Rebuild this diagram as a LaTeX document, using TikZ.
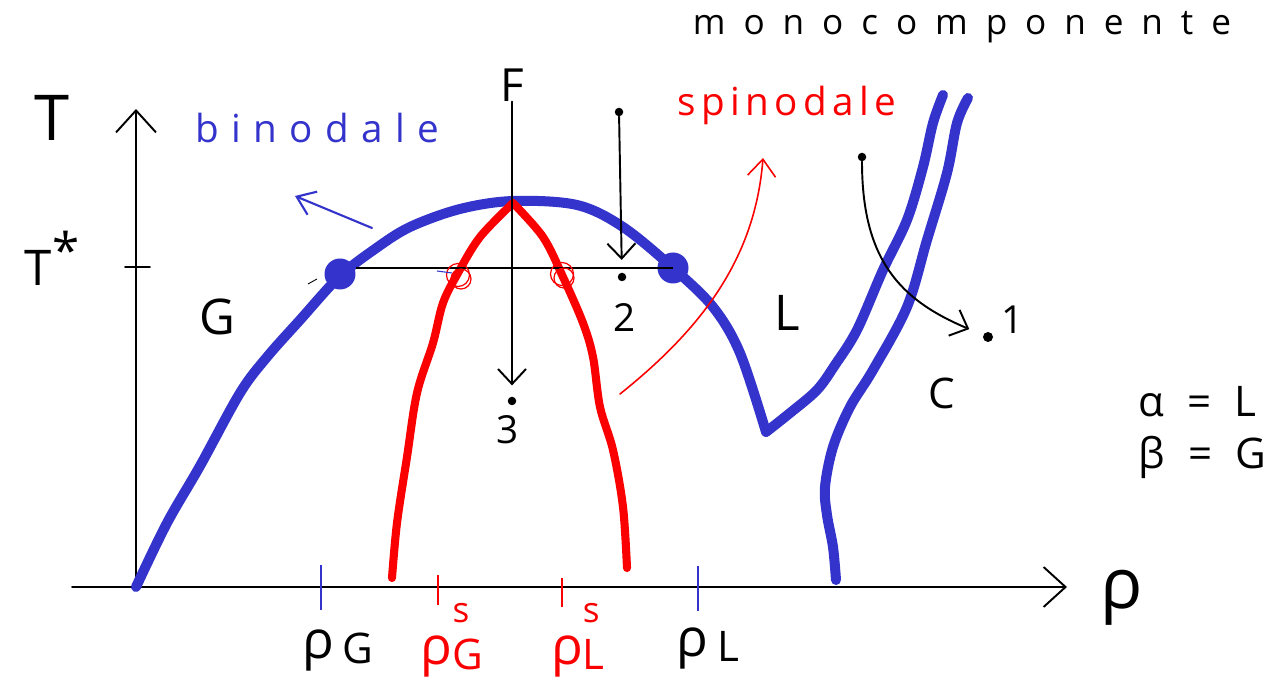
\documentclass[tikz,border=0pt]{standalone}
\usepackage{fontspec}
\setmainfont{Open Sans}
\usepackage{tikz}
\usetikzlibrary{arrows.meta,calc}

\definecolor{inkblue}{RGB}{52,52,204}
\definecolor{inkred}{RGB}{250,0,0}

\begin{document}
\begin{tikzpicture}[
    x=0.02cm, y=-0.02cm,
    axis/.style={line width=1.1pt, black, line cap=round},
    axarrow/.style={axis, -{Straight Barb[length=4.4mm, width=8mm, line width=1.1pt]}},
    ptarrow/.style={axis, -{Straight Barb[length=3mm, width=5.6mm, line width=1.1pt]}},
    binodal/.style={inkblue, line width=5.7pt, line cap=round, line join=round},
    spinodal/.style={inkred, line width=4.6pt, line cap=round, line join=round},
    dot/.style={circle, fill=black, inner sep=0pt, minimum size=0.17cm},
    bigdot/.style={circle, fill=inkblue, inner sep=0pt, minimum size=0.62cm},
    ring/.style={circle, draw=inkred, line width=0.7pt, inner sep=0pt, minimum size=0.46cm},
    lbl/.style={inner sep=0pt, font=\fontsize{28}{30}\selectfont},
    hand/.style={inner sep=0pt, font=\fontsize{22}{26}\selectfont\addfontfeature{LetterSpace=#1}}
]
\fill[white] (0,0) rectangle (1286,688);
\useasboundingbox (0,0) rectangle (1286,688);

% Axes
\coordinate (o) at (136,587);
\coordinate (xstart) at (72,587);
\coordinate (xend) at (1067,587);
\coordinate (ytop) at (136,109);
\coordinate (tstar) at (136,267);
\draw[axarrow] (xstart) -- (xend);
\draw[axarrow] (o) -- (ytop);
\draw[axis] (tstar) ++(-11,0) -- ++(25,0);

\node[lbl, font=\fontsize{36}{40}\selectfont] (T) at (52,118) {T};
\node[lbl] (Tstar) at (52,258) {T\raisebox{0.35em}{*}};
\node[lbl, font=\fontsize{40}{44}\selectfont] (rho) at (1122,598) {ρ};

% Ticks on the density axis
\coordinate (tG) at (321,587);
\coordinate (tGs) at (438,587);
\coordinate (tLs) at (562,587);
\coordinate (tL) at (698,587);
\draw[inkblue, line width=0.9pt] (tG) ++(0,-22) -- ++(0,45);
\draw[inkblue, line width=0.9pt] (tL) ++(0,-21) -- ++(0,45);
\draw[inkred, line width=0.9pt] (tGs) ++(0,-12) -- ++(0,30);
\draw[inkred, line width=0.9pt] (tLs) ++(0,-9) -- ++(0,29);

\node[lbl, font=\fontsize{30}{32}\selectfont] (rhoG) at (338,650)
    {ρ\,\raisebox{-0.1em}{\fontsize{24}{24}\selectfont G}};
\node[lbl, font=\fontsize{30}{32}\selectfont, inkred] (rhoGs) at (452,640)
    {ρ\rlap{\raisebox{0.8em}{\fontsize{20}{20}\selectfont s}}\raisebox{-0.1em}{\fontsize{24}{24}\selectfont G}};
\node[lbl, font=\fontsize{30}{32}\selectfont, inkred] (rhoLs) at (578,640)
    {ρ\rlap{\raisebox{0.8em}{\fontsize{20}{20}\selectfont s}}\raisebox{-0.1em}{\fontsize{24}{24}\selectfont L}};
\node[lbl, font=\fontsize{30}{32}\selectfont] (rhoL) at (708,648)
    {ρ\,\raisebox{-0.1em}{\fontsize{24}{24}\selectfont L}};

% Binodal
\draw[binodal] plot[smooth, tension=0.55] coordinates {
    (136,587) (167,523) (200,466) (240,393) (267,357) (300,320) (339,277)
    (375,249) (410,227) (460,209) (513,201) (577,205) (623,227)
    (673,268) (713,307) (740,353) (766,432)};
\draw[binodal] plot[smooth, tension=0.55] coordinates {
    (766,432) (790,413) (817,390) (835,365) (857,330) (883,270) (907,220)
    (923,167) (933,123) (943,95)};
\draw[binodal] plot[smooth, tension=0.55] coordinates {
    (836,580) (833,547) (827,515) (825,487) (833,447) (850,407) (873,370)
    (907,307) (927,240) (947,173) (957,123) (968,98)};

% Spinodal
\draw[spinodal] plot[smooth, tension=0.55] coordinates {
    (392,578) (397,523) (407,457) (417,393) (433,343) (443,303) (458,273)
    (480,237) (513,203)};
\draw[spinodal] plot[smooth, tension=0.55] coordinates {
    (513,203) (543,237) (563,277) (583,323) (593,357) (600,407) (613,450)
    (623,507) (627,568)};

% Tie line at T*
\node[bigdot] (dotG) at (340,274) {};
\node[bigdot] (dotL) at (673,268) {};
\draw[line width=0.8pt] (dotG.east |- dotL.center) -- (dotL.center);
\node[ring] (sG) at (458,275) {};
\node[ring, minimum size=0.4cm] (sGb) at (461,279) {};
\node[ring] (sL) at (562,274) {};
\node[ring, minimum size=0.4cm] (sLb) at (564,278) {};
\draw[black, line width=0.5pt] (308,284) -- (317,279);
\draw[inkblue, line width=0.6pt] (437,271) -- (452,273);

% Labels
\node[hand=32, inkblue] (binlbl) at (317,128) {binodale};
\node[hand=14, inkred] (spinlbl) at (787,105) {spinodale};
\node[inner sep=0pt, font=\fontsize{20}{24}\selectfont\addfontfeature{LetterSpace=51}] (mono) at (962,27) {monocomponente};
\node[lbl, font=\fontsize{26}{28}\selectfont] (F) at (512,85) {F};
\node[lbl] (G) at (217,317) {G};
\node[lbl] (L) at (787,313) {L};
\node[lbl, font=\fontsize{24}{26}\selectfont] (C) at (942,393) {C};
\node[lbl, font=\fontsize{24}{26}\selectfont, anchor=west] (alphaL) at (1138,402)
    {α\hspace{0.55em}=\hspace{0.55em}L};
\node[lbl, font=\fontsize{24}{26}\selectfont, anchor=west] (betaG) at (1138,457)
    {β\hspace{0.55em}=\hspace{0.55em}G};

% Points
\node[dot] (p1top) at (862,157) {};
\node[dot, minimum size=0.2cm] (p1) at (988,337) {};
\node[dot] (p2top) at (619,112) {};
\node[dot] (p2) at (622,277) {};
\node[dot] (p3) at (512,401) {};
\node[lbl, font=\fontsize{22}{24}\selectfont] (n1) at (1013,320) {1};
\node[lbl, font=\fontsize{22}{24}\selectfont] (n2) at (625,318) {2};
\node[lbl, font=\fontsize{22}{24}\selectfont] (n3) at (508,430) {3};

% Arrows
\draw[ptarrow, shorten >=0.22cm] (F) -- (p3);
\draw[ptarrow, shorten >=0.25cm] (p2top) -- (p2);
\draw[ptarrow, shorten >=0.3cm] (p1top) .. controls (862,260) and (900,300) .. (p1);
\coordinate (bn0) at (372,228);
\coordinate (bn1) at (295,196);
\draw[inkblue, line width=1.2pt, line cap=round,
    -{Straight Barb[length=3.4mm, width=5mm, line width=1.2pt]}] (bn0) -- (bn1);
\coordinate (sp0) at (620,394);
\coordinate (sp1) at (763,158);
\draw[inkred, line width=0.9pt, line cap=round,
    -{Straight Barb[length=3.4mm, width=5.6mm, line width=0.9pt]}]
    (sp0) .. controls (700,330) and (755,260) .. (sp1);
\end{tikzpicture}
\end{document}
